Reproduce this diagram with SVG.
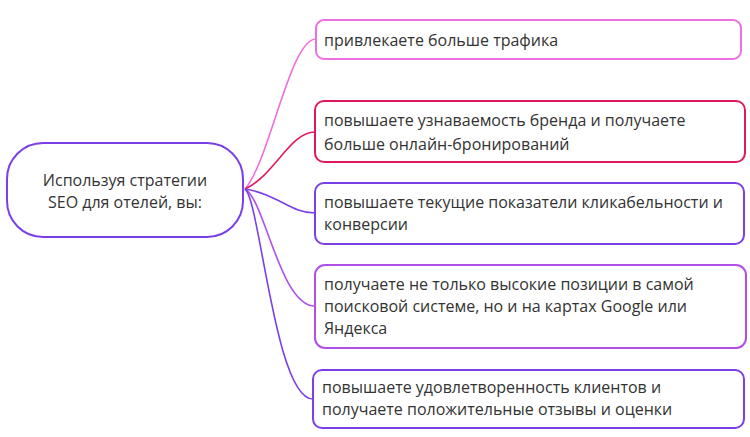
<svg xmlns="http://www.w3.org/2000/svg" width="750" height="437" viewBox="0 0 750 437">
<style>
.t{font-family:"Open Sans","Noto Sans",sans-serif;font-size:16px;fill:#333333}
.c{text-anchor:middle}
.b{fill:#ffffff;stroke-width:2}
.l{fill:none;stroke-width:1.6}
</style>
<rect width="750" height="437" fill="#ffffff"/>
<g id="connectors">
<path class="l" stroke="#ee6fe0" d="M245,189 C270,160 290,39 316,39"/>
<path class="l" stroke="#e0195f" d="M245,189 C275,175 290,132 315,132"/>
<path class="l" stroke="#7b3fe8" d="M245,189 C280,195 290,213 315,213"/>
<path class="l" stroke="#b150e8" d="M245,189 C265,200 280,306 315,306"/>
<path class="l" stroke="#7b3fe8" d="M245,189 C260,200 275,399 313,399"/>
</g>
<g id="center">
<rect class="b" x="7" y="143" width="236" height="94" rx="36" stroke="#7b3fe8"/>
<text class="t c" x="125" y="186">Используя стратегии</text>
<text class="t c" x="125" y="208">SEO для отелей, вы:</text>
</g>
<g id="n1">
<rect class="b" x="316" y="20" width="425" height="39" rx="8" stroke="#ee6fe0"/>
<text class="t" x="324" y="46">привлекаете больше трафика</text>
</g>
<g id="n2">
<rect class="b" x="315" y="101" width="430" height="61" rx="9" stroke="#e0195f"/>
<text class="t" x="324" y="126">повышаете узнаваемость бренда и получаете</text>
<text class="t" x="324" y="150">больше онлайн-бронирований</text>
</g>
<g id="n3">
<rect class="b" x="315" y="183" width="429" height="61" rx="9" stroke="#7b3fe8"/>
<text class="t" x="324" y="208">повышаете текущие показатели кликабельности и</text>
<text class="t" x="324" y="230">конверсии</text>
</g>
<g id="n4">
<rect class="b" x="315" y="265" width="431" height="83" rx="10" stroke="#b150e8"/>
<text class="t" x="324" y="290">получаете не только высокие позиции в самой</text>
<text class="t" x="324" y="312">поисковой системе, но и на картах Google или</text>
<text class="t" x="324" y="334">Яндекса</text>
</g>
<g id="n5">
<rect class="b" x="313" y="370" width="431" height="58" rx="9" stroke="#7b3fe8"/>
<text class="t" x="322" y="393">повышаете удовлетворенность клиентов и</text>
<text class="t" x="322" y="415">получаете положительные отзывы и оценки</text>
</g>
</svg>
